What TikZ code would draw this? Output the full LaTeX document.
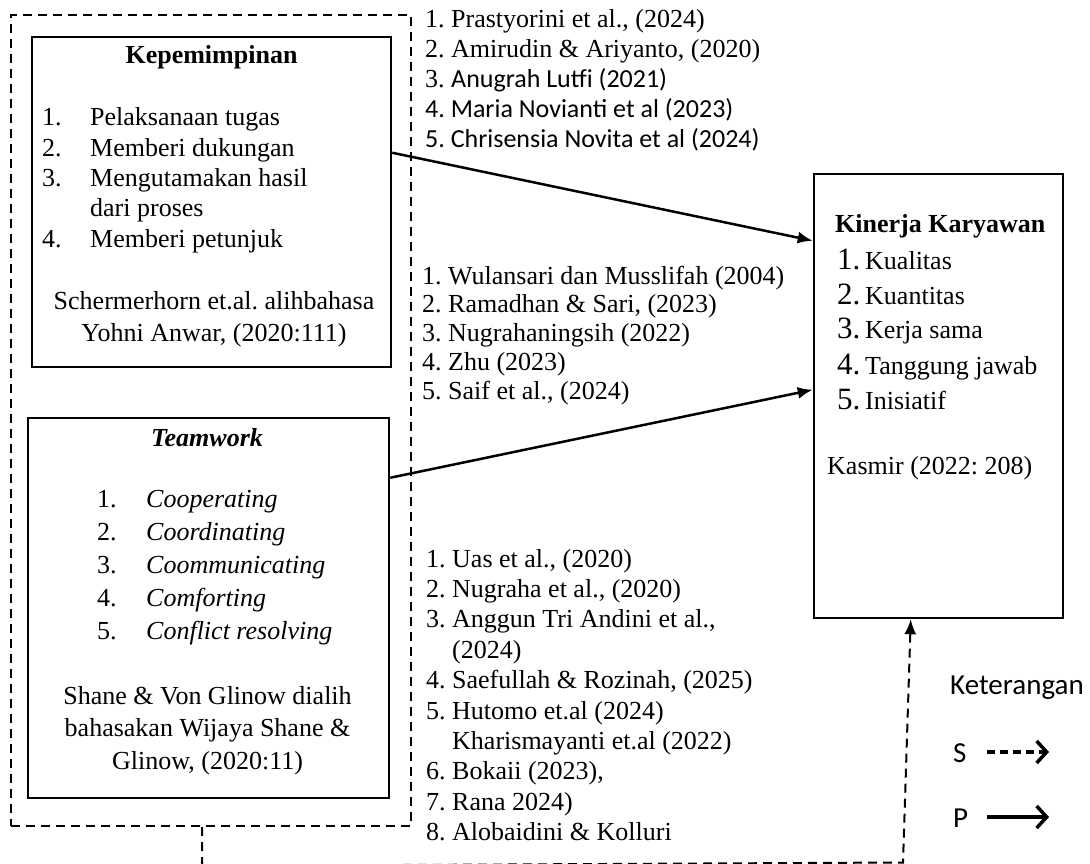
\documentclass[tikz,border=0pt]{standalone}
\usepackage{fontspec}
\setmainfont{Liberation Serif}
\newfontfamily\calib{Carlito}
\usetikzlibrary{arrows.meta,calc}
\frenchspacing
\begin{document}
\begin{tikzpicture}[x=1pt,y=-1pt,
  solidbox/.style={draw, line width=2.5pt, rectangle, inner sep=0pt},
  dashbox/.style={draw, line width=2pt, dash pattern=on 9pt off 6pt, rectangle, inner sep=0pt},
  txt/.style={inner sep=0pt, font=\fontsize{26}{30}\selectfont},
  conn/.style={line width=2.5pt, -{Latex[length=15pt,width=12pt]}},
  dashconn/.style={line width=2pt, dash pattern=on 9pt off 6pt, -{Latex[length=15pt,width=12pt]}},
  legarrow/.style={line width=3.5pt, -{Straight Barb[length=10pt,width=22pt]}},
  legtxt/.style={inner sep=0pt, font=\calib\fontsize{29}{32}\selectfont}
]
\useasboundingbox[fill=white] (0,0) rectangle (1090,864);

% group box
\node[dashbox, minimum width=400pt, minimum height=811pt] (grp) at (211,420.5) {};

% Kepemimpinan
\node[solidbox, minimum width=359pt, minimum height=330pt] (kep) at (211.5,202) {};
\node[txt, anchor=base] (kept) at (211.5,64) {\bfseries Kepemimpinan};
\node[txt, anchor=base west, font=\fontsize{26}{30.3}\selectfont] (keplist) at (42,126) {\begin{tabular}[t]{@{}l@{}}
\makebox[48pt][l]{1.}Pelaksanaan tugas\\
\makebox[48pt][l]{2.}Memberi dukungan\\
\makebox[48pt][l]{3.}Mengutamakan hasil\\
\makebox[48pt][l]{}dari proses\\
\makebox[48pt][l]{4.}Memberi petunjuk
\end{tabular}};
\node[txt, anchor=base, font=\fontsize{26}{32}\selectfont] (kepcite) at (214,309) {\begin{tabular}[t]{@{}c@{}}
Schermerhorn et.al. alihbahasa\\
Yohni Anwar, (2020:111)
\end{tabular}};

% Teamwork
\node[solidbox, minimum width=361pt, minimum height=380pt] (team) at (208.5,608) {};
\node[txt, anchor=base] (teamt) at (207,446) {\bfseries\itshape Teamwork};
\node[txt, anchor=base west, font=\fontsize{26}{33}\selectfont] (teamlist) at (97,507) {\begin{tabular}[t]{@{}l@{}}
\makebox[49pt][l]{1.}\textit{Cooperating}\\
\makebox[49pt][l]{2.}\textit{Coordinating}\\
\makebox[49pt][l]{3.}\textit{Coommunicating}\\
\makebox[49pt][l]{4.}\textit{Comforting}\\
\makebox[49pt][l]{5.}\textit{Conflict resolving}
\end{tabular}};
\node[txt, anchor=base, font=\fontsize{26}{32.5}\selectfont] (teamcite) at (207.5,704) {\begin{tabular}[t]{@{}c@{}}
Shane \& Von Glinow dialih\\
bahasakan Wijaya Shane \&\\
Glinow, (2020:11)
\end{tabular}};

% Kinerja
\node[solidbox, minimum width=249pt, minimum height=444pt] (kin) at (938.5,396) {};
\node[txt, anchor=base west] (kint) at (835,232) {\bfseries Kinerja Karyawan};
\node[txt, anchor=base west, font=\fontsize{26}{35}\selectfont] (kinlist) at (837,269) {\begin{tabular}[t]{@{}l@{}}
\makebox[28pt][l]{\fontsize{31}{35}\selectfont 1.}Kualitas\\
\makebox[28pt][l]{\fontsize{31}{35}\selectfont 2.}Kuantitas\\
\makebox[28pt][l]{\fontsize{31}{35}\selectfont 3.}Kerja sama\\
\makebox[28pt][l]{\fontsize{31}{35}\selectfont 4.}Tanggung jawab\\
\makebox[28pt][l]{\fontsize{31}{35}\selectfont 5.}Inisiatif
\end{tabular}};
\node[txt, anchor=base west] (kincite) at (827,474) {Kasmir (2022: 208)};

% reference lists
\node[txt, anchor=base west, font=\fontsize{26}{30}\selectfont] (ref1) at (425,28) {\begin{tabular}[t]{@{}l@{}}
1. Prastyorini et al., (2024)\\
2. Amirudin \& Ariyanto, (2020)\\
3. {\calib Anugrah Lutfi (2021)}\\
{\calib 4. Maria Novianti et al (2023)}\\
{\calib 5. Chrisensia Novita et al (2024)}
\end{tabular}};
\node[txt, anchor=base west, font=\fontsize{26}{28.8}\selectfont] (ref2) at (422,284) {\begin{tabular}[t]{@{}l@{}}
1. Wulansari dan Musslifah (2004)\\
2. Ramadhan \& Sari, (2023)\\
3. Nugrahaningsih (2022)\\
4. Zhu (2023)\\
5. Saif et al., (2024)
\end{tabular}};
\node[txt, anchor=base west, font=\fontsize{26}{30.4}\selectfont] (ref3) at (426,567) {\begin{tabular}[t]{@{}l@{}}
\makebox[26pt][l]{1.}Uas et al., (2020)\\
\makebox[26pt][l]{2.}Nugraha et al., (2020)\\
\makebox[26pt][l]{3.}Anggun Tri Andini et al.,\\
\makebox[26pt][l]{}(2024)\\
\makebox[26pt][l]{4.}Saefullah \& Rozinah, (2025)\\
\makebox[26pt][l]{5.}Hutomo et.al (2024)\\
\makebox[26pt][l]{}Kharismayanti et.al (2022)\\
\makebox[26pt][l]{6.}Bokaii (2023),\\
\makebox[26pt][l]{7.}Rana 2024)\\
\makebox[26pt][l]{8.}Alobaidini \& Kolluri
\end{tabular}};

% connectors
\draw[conn] ($(kep.north east)+(0,117)$) -- ($(kin.north west)+(0,68)$);
\draw[conn] ($(team.north east)+(0,61)$) -- ($(kin.north west)+(0,217)$);
\coordinate (d1) at (202,866);
\coordinate (d2) at (903,862.5);
\draw[dashconn] (grp.south -| d1) -- (d1) -- (d2) -- ($(kin.south west)+(98,0)$);

% legend
\node[legtxt, anchor=base west] (ket) at (950,694) {Keterangan};
\node[legtxt, anchor=base west] (legS) at (953,762) {S};
\node[legtxt, anchor=base west] (legP) at (953,827) {P};
\coordinate (sa) at (987,752);
\coordinate (sb) at (1049,752);
\coordinate (pa) at (987,817);
\coordinate (pb) at (1049,817);
\draw[legarrow, dash pattern=on 8pt off 5pt] (sa) -- (sb);
\draw[legarrow] (pa) -- (pb);
\end{tikzpicture}
\end{document}
